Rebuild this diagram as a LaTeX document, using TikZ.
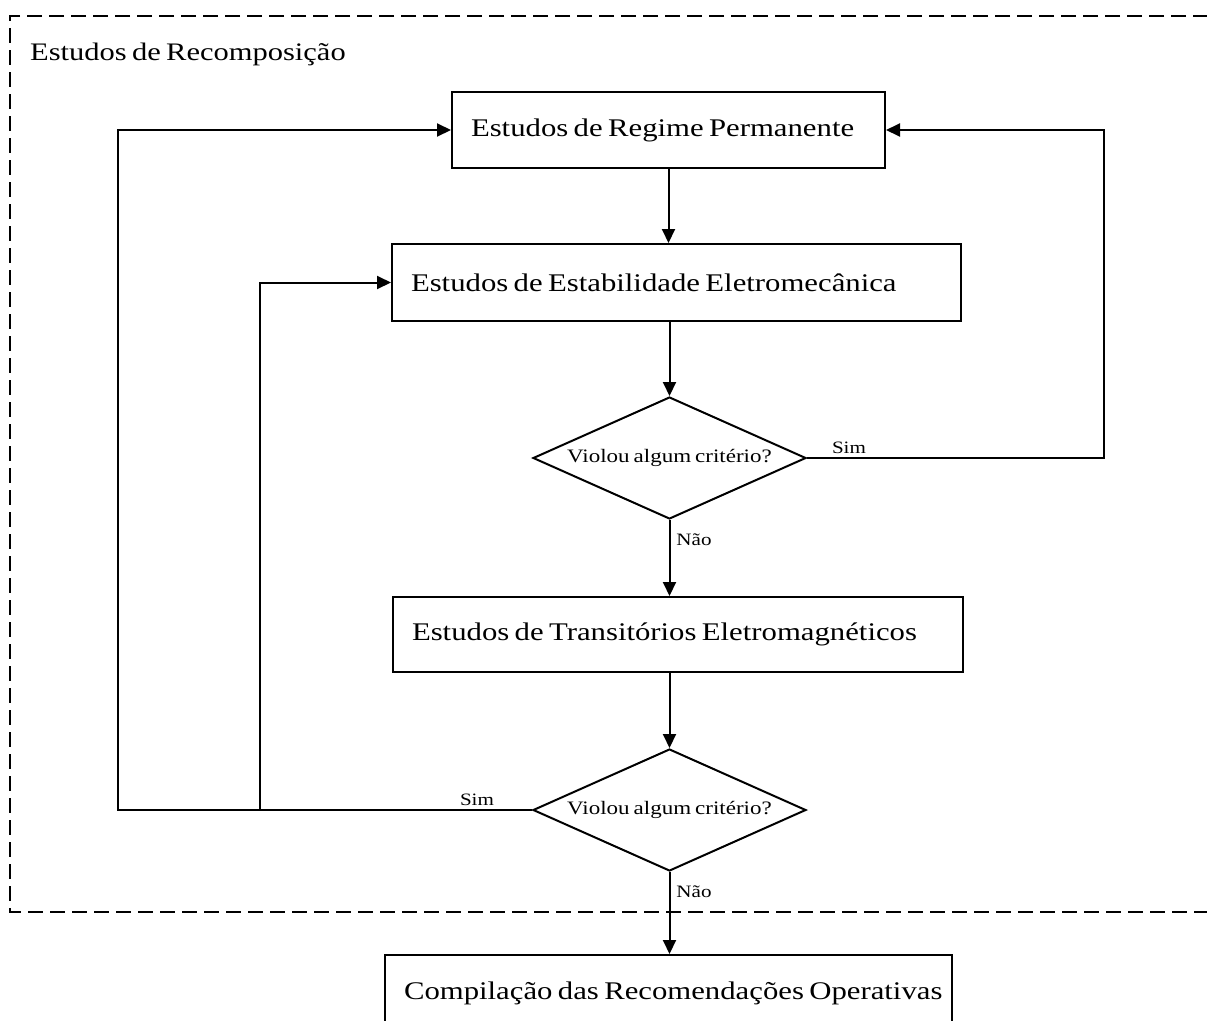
\documentclass[tikz,border=0pt]{standalone}
\usepackage{graphicx}
\usepackage{fontspec}
\setmainfont[WordSpace=0.7]{Liberation Serif}
\usetikzlibrary{shapes.geometric,arrows.meta}
\newcommand{\sx}[1]{\scalebox{1.21}[1]{\spaceskip=0pt\xspaceskip=0pt #1}}
\begin{document}
\begin{tikzpicture}[x=1pt,y=-1pt,
  boxnode/.style={draw, line width=2pt, rectangle, inner xsep=19pt, inner ysep=0pt,
    align=left, font=\fontsize{25.4}{30}\selectfont},
  decision/.style={draw, line width=2pt, diamond, aspect=2.24, inner sep=0pt,
    minimum width=273pt, minimum height=122pt, font=\fontsize{19.0}{22}\selectfont},
  conn/.style={line width=2pt},
  arr/.style={conn, -{Triangle[length=14pt,width=13pt]}},
  lbl/.style={inner sep=0pt, font=\fontsize{17.4}{20}\selectfont},
  frame/.style={line width=1.8pt, dash pattern=on 15pt off 7pt}
]
\useasboundingbox (0,0) rectangle (1207,1020);
\clip (0,0) rectangle (1207,1020);

% dashed frame (right side lies outside the picture)
\coordinate (f1) at (1230,16);
\coordinate (f2) at (10,16);
\coordinate (f3) at (10,912);
\coordinate (f4) at (1230,912);
\draw[frame] (f1) -- (f2) -- (f3) -- (f4);
\node[anchor=base west, inner sep=0pt, font=\fontsize{25.2}{30}\selectfont] (title) at (30,60) {\sx{Estudos de Recomposição}};

% boxes
\node[boxnode, minimum width=433pt, minimum height=76pt, text width=395pt] (b1) at (668.5,130) {\sx{Estudos de Regime Permanente}};
\node[boxnode, minimum width=569pt, minimum height=77pt, text width=531pt] (b2) at (676.5,282.5) {\sx{Estudos de Estabilidade Eletromecânica}};
\node[boxnode, minimum width=570pt, minimum height=75pt, text width=532pt] (b3) at (678,634.5) {\sx{Estudos de Transitórios Eletromagnéticos}};
\node[boxnode, minimum width=567pt, minimum height=76pt, text width=529pt] (b4) at (668.5,993) {\sx{Compilação das Recomendações Operativas}};

% decisions
\node[decision] (d1) at (669.5,458) {\sx{Violou algum critério?}};
\node[decision] (d2) at (669.5,810) {\sx{Violou algum critério?}};

% helper coordinates for feedback lines
\coordinate (rx) at (1104,0);
\coordinate (lx) at (118,0);
\coordinate (mx) at (260,0);

% main flow
\draw[arr] (b1.south) -- (b1.south |- b2.north);
\draw[arr] (d1.north |- b2.south) -- (d1.north);
\draw[arr] (d1.south) -- (d1.south |- b3.north);
\draw[arr] (d2.north |- b3.south) -- (d2.north);
\draw[arr] (d2.south) -- (d2.south |- b4.north);

% feedback loops
\draw[arr] (d1.east) -- (d1.east -| rx) -- (rx |- b1.east) -- (b1.east);
\draw[arr] (d2.west) -- (d2.west -| lx) -- (lx |- b1.west) -- (b1.west);
\draw[arr] (d2.west -| mx) -- (mx |- b2.west) -- (b2.west);

% labels
\node[lbl] (s1) at (849,448) {\sx{Sim}};
\node[lbl] (n1) at (694,540) {\sx{Não}};
\node[lbl] (s2) at (477,800) {\sx{Sim}};
\node[lbl] (n2) at (694,892) {\sx{Não}};
\end{tikzpicture}
\end{document}
